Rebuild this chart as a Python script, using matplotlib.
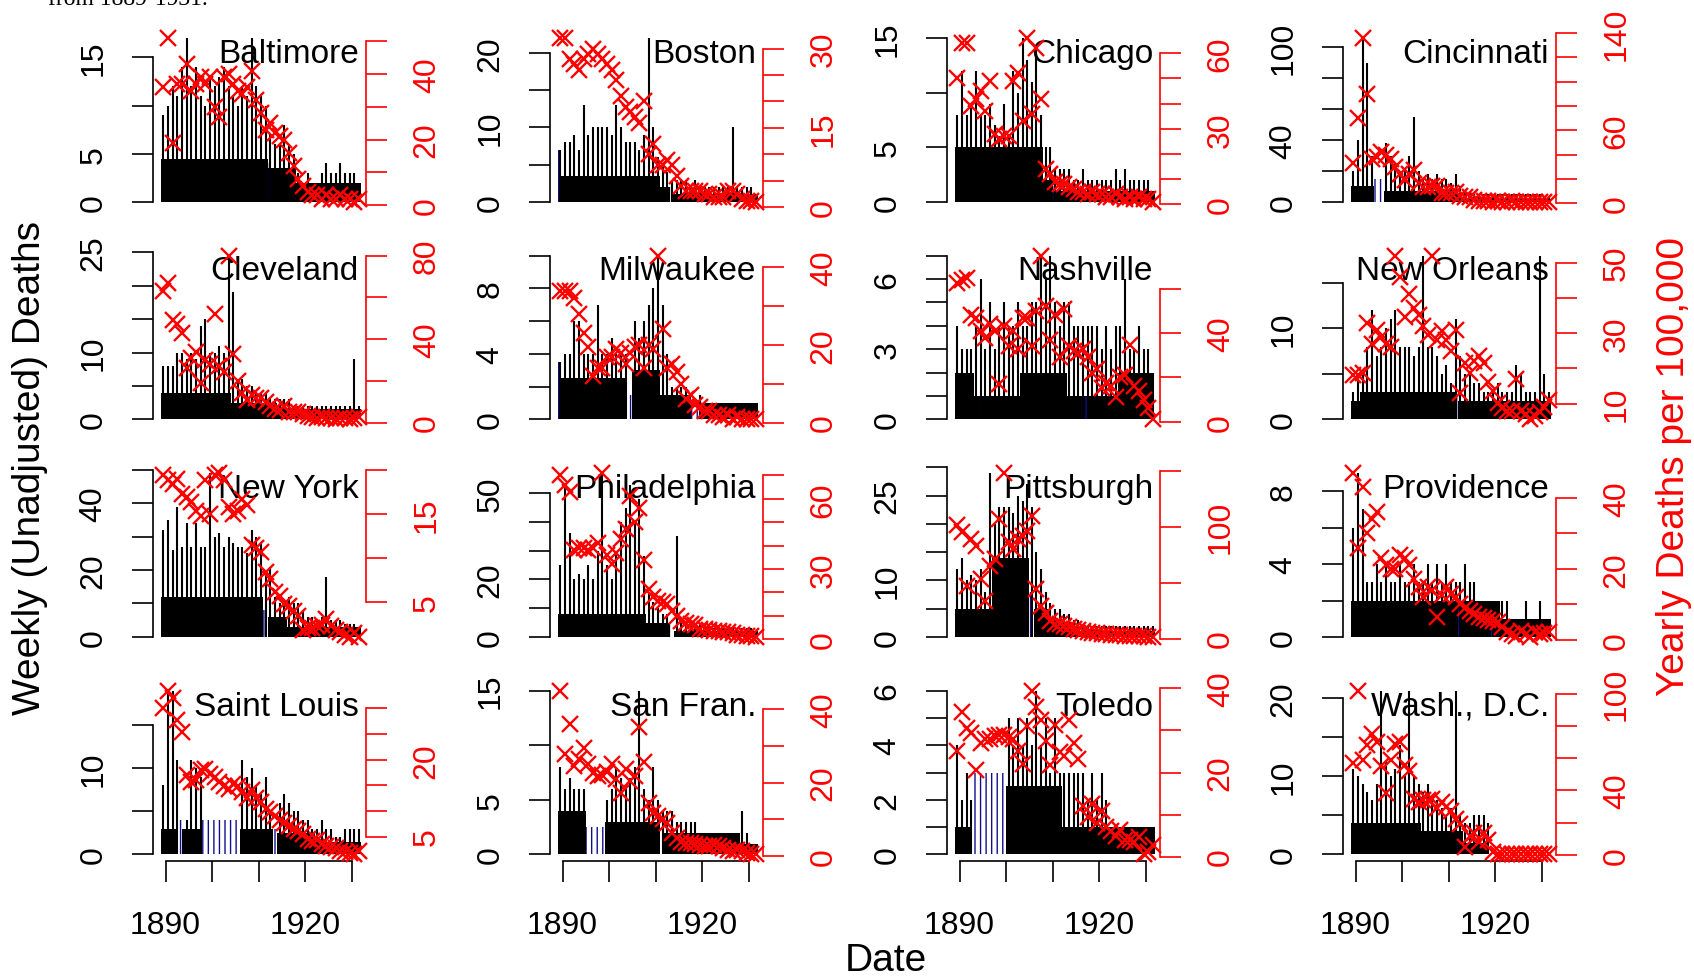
import numpy as np
import matplotlib
matplotlib.use('Agg')
import matplotlib.pyplot as plt

plt.rcParams['font.family'] = ['Liberation Sans', 'DejaVu Sans']
plt.rcParams['hatch.linewidth'] = 1.0

years = np.arange(1889, 1932)

cities = ['Baltimore', 'Boston', 'Chicago', 'Cincinnati',
          'Cleveland', 'Milwaukee', 'Nashville', 'New Orleans',
          'New York', 'Philadelphia', 'Pittsburgh', 'Providence',
          'Saint Louis', 'San Fran.', 'Toledo', 'Wash., D.C.']

# yearly deaths per 100,000 (red crosses), 1889-1931
red_baltimore = [36, 51, 19, 37, 37, 43, 35, 37, 39, 37, 39, 30, 27, 39, 40, 37, 35, 34, 36, 41, 32, 28, 23, 25, 22, 21, 20, 16, 12, 8, 6, 4, 3, 3, 2, 3, 2, 2, 3, 2, 2, 1, 2]
red_boston = [32, 32, 28, 27, 26, 28, 29, 30, 29, 28, 27, 26, 24, 21, 19, 18, 17, 16, 20, 10, 12, 8, 8, 9, 8, 6, 4, 3, 3, 3, 3, 2.5, 2.5, 2, 2, 2, 3, 3, 2.5, 1.5, 1.2, 1.2, 1]
red_chicago = [50, 64, 64, 39, 42, 45, 37, 49, 28, 26, 27, 27, 49, 52, 33, 66, 36, 62, 42, 14, 12, 9, 8, 8, 7, 6, 5, 5, 4, 5, 4, 4, 3, 3, 4, 3, 2, 3, 2, 3, 2, 2, 1]
red_cincinnati = [33, 70, 136, 90, 36, 38, 42, 40, 36, 30, 24, 19, 24, 27, 17, 13, 13, 14, 14, 8, 8, 8, 9, 6, 5, 5, 3, 2, 2, 1.5, 1, 1.5, 1, 1, 1.5, 1, 1, 1, 1, 1, 1, 1, 1]
red_cleveland = [63, 67, 49, 47, 43, 26, 31, 34, 19, 30, 28, 52, 27, 24, 80, 33, 20, 14, 11, 13, 12, 12, 10, 8, 6.5, 6, 8, 5, 5, 5, 4, 3, 2.5, 2, 2.5, 2, 2, 1.5, 2, 2, 1.5, 2, 2.5]
red_milwaukee = [34, 34, 34, 32, 28, 23, 19.5, 12, 14, 14, 17, 17, 19, 18, 15, 18, 19.5, 20, 14, 20, 19, 43, 24, 14, 15, 13, 10, 6, 7, 4.5, 4, 3, 3, 2, 2, 1.5, 2, 1, 1.5, 1, 1, 1, 0.8]
red_nashville = [62.5, 64, 64.7, 48, 47, 41, 38, 44, 41, 17, 43, 34, 41, 33, 47, 47, 34, 50, 75, 52, 37, 48, 29, 51, 34, 32, 31, 33, 29, 22, 24, 15, 17.6, 16, 11, 20, 21, 34.5, 16, 14, 10, 6, 1]
red_neworleans = [18, 18, 18.6, 33, 27, 31, 29, 27, 26, 52, 46, 34.5, 41, 37, 35, 32, 29.6, 52, 28, 30.6, 28, 25, 31, 13, 21.4, 18.6, 22, 23.4, 21.4, 16, 13.5, 10.2, 8.7, 8, 8, 17, 8, 7, 5.5, 6.5, 7.7, 9, 11]
red_newyork = [19.5, 18.9, 18.5, 19, 17.3, 17, 16.4, 15.4, 14.8, 18.9, 15, 19.5, 19.7, 18.9, 15.8, 15, 15.4, 16.7, 16, 11.5, 11.1, 10.7, 8.4, 7.6, 6.1, 5.7, 4.8, 4.5, 4, 3.4, 1.8, 2, 2, 2.2, 2.4, 3, 2.2, 1.8, 1.6, 1.2, 1, 1.4, 1]
red_philadelphia = [70, 66, 63, 38, 39, 39, 38, 39, 41, 71, 36, 32, 37, 43, 47, 61, 50, 56, 34, 21.5, 18, 16.5, 16, 15, 12, 10, 8, 7, 6.5, 6, 4.6, 4.5, 4, 3.5, 3.5, 3, 3, 2.5, 2, 2, 1.5, 1.5, 1]
red_pittsburgh = [102, 95, 47, 89, 83, 53, 34, 65, 71, 107, 148, 86, 80, 89, 92, 96, 110, 44, 29, 23, 16, 13, 13, 11, 10, 9, 8, 7, 6, 5, 5, 4, 4, 3.5, 3, 3, 2.5, 2.5, 2, 2, 2, 1.5, 1.5]
red_providence = [47, 26, 43, 30, 34, 36, 23, 21, 20, 20, 24, 23, 21, 17, 15, 12, 15, 14, 6.4, 12.5, 15, 13, 12, 10, 9, 8, 7.4, 6.5, 6, 5.5, 5.2, 5, 3.5, 2.2, 1.5, 1.2, 2.6, 1.5, 0.8, 2.2, 1.5, 2, 2.2]
red_saintlouis = [30, 33.5, 32, 27.7, 25.4, 17, 15.6, 16, 17.9, 18.2, 17.2, 16.6, 15.6, 14.9, 14.3, 15.3, 14.8, 13.6, 12.6, 14, 12.5, 11.7, 10.4, 9.7, 9, 8.2, 7.7, 7.1, 6.4, 6, 5.5, 4.5, 4.2, 4.4, 3.5, 3.2, 3, 2.8, 2.2, 1.9, 1.7, 1.5, 2.2]
red_sanfran = [45, 27.7, 36, 24.5, 26.4, 29.5, 25, 22.7, 21.8, 22, 23, 25, 20.9, 17.3, 23.6, 20.5, 21.8, 35, 25.5, 14.5, 11.8, 11, 10, 9, 6.4, 5, 4, 3.6, 3.6, 3.4, 3.2, 2.8, 2.7, 3.2, 2.8, 2.3, 1.8, 1.4, 1.8, 1.4, 0.9, 0.6, 0.5]
red_toledo = [25, 34.5, 30.6, 29.5, 20.5, 27, 28, 28, 28.7, 29, 29, 28.5, 28, 25, 22, 31, 39.5, 35.7, 32.6, 27.5, 21.7, 31.4, 24.8, 24, 32.6, 27, 23.3, 12, 9.3, 12.4, 8.1, 10.9, 7, 6, 5, 6.2, 3.9, 4, 3.5, 4.7, 0.5, 1.2, 2.7]
red_wash = [57, 102, 59, 68, 75, 70, 55, 38.5, 59, 69, 70, 56, 52, 35, 33, 34, 34, 35, 29, 33, 30, 27, 22, 19, 5.2, 11.5, 13.5, 8.3, 13.5, 9.4, 2, 0.3, 0.3, 0.3, 0.3, 0.3, 0.3, 0.3, 0.3, 0.3, 0.3, 0.3, 0.3]

# highest weekly count in each year (black spikes), 1889-1931
peak_baltimore = [9, 10, 12, 11, 14, 17, 12, 14, 11, 10, 13, 12, 13, 14, 12, 11, 10, 12, 11, 17, 12, 11, 10, 7, 6, 6, 8, 6, 5, 3, 2, 3, 2, 2, 3, 4, 3, 3, 4, 3, 3, 3, 2]
peak_boston = [7, 8, 8, 9, 7, 13, 9, 10, 10, 10, 10, 9, 13, 10, 8, 8, 8, 7, 9, 22, 10, 6, 5, 4, 3, 3, 3, 3, 2, 3, 2, 2, 2, 2, 2, 2, 2, 10, 2, 2, 2, 2, 1]
peak_chicago = [8, 12, 8, 9, 12, 8, 8, 9, 7, 6, 9, 6, 12, 10, 15, 13, 11, 14, 8, 5, 5, 3, 3, 3, 3, 2, 2, 3, 2, 2, 2, 2, 2, 2, 3, 2, 3, 2, 2, 2, 2, 2, 1]
peak_cincinnati = [20, 40, 106, 90, 30, 0, 0, 38, 30, 25, 20, 20, 30, 55, 20, 15, 18, 15, 18, 15, 15, 12, 18, 10, 8, 6, 5, 5, 5, 5, 5, 5, 5, 5, 5, 5, 5, 5, 5, 5, 5, 4, 4]
peak_cleveland = [8, 8, 8, 10, 10, 9, 10, 9, 14, 15, 10, 10, 11, 10, 24.5, 19, 6, 6, 5, 5, 4, 4, 4, 3, 3, 3, 3, 3, 2, 2, 2, 2, 2, 2, 2, 2, 2, 2, 2, 2, 2, 9, 2]
peak_milwaukee = [3.5, 4, 4, 6, 6, 4, 4, 4, 7, 4, 4, 5, 4, 4, 4, 0, 6, 5, 6, 7, 8, 10, 7, 4, 2, 2, 2, 2, 0, 0, 1.5, 1, 1, 1, 1, 1, 1, 1, 1, 1, 1, 1, 1]
peak_nashville = [4, 3, 3, 3, 4, 6, 3, 5, 3, 4, 5, 4, 4, 5, 4, 4, 5, 5, 7, 6, 7, 5, 4, 5, 5, 4, 4, 4, 4, 4, 4, 3, 4, 3, 4, 4, 6, 3, 3, 4, 3, 3, 2]
peak_neworleans = [3, 5, 5, 8, 12, 7, 8, 10, 11, 12, 8, 8, 8, 7, 8, 18, 8, 8, 7, 5, 6, 4, 11, 7, 5, 5, 4, 4, 3, 3, 3, 4, 3, 3, 3, 6, 5, 3, 3, 3, 18, 5, 3]
peak_newyork = [32, 35, 26, 39, 27, 34, 27, 34, 27, 27, 49, 30, 31, 27, 30, 28, 27, 27, 25, 32, 30, 28, 20, 21, 12, 10, 11, 12, 10, 10, 8, 6, 6, 5, 6, 18, 5, 5, 5, 4, 4, 4, 3]
peak_philadelphia = [25, 52, 36, 20, 22, 20, 25, 20, 30, 57, 25, 20, 30, 40, 45, 53, 40, 48, 28, 15, 12, 10, 8, 8, 0, 35, 6, 5, 5, 4, 4, 4, 4, 3, 3, 3, 3, 3, 3, 3, 3, 3, 2]
peak_pittsburgh = [12, 14, 10, 11, 10, 12, 8, 29, 20, 23, 23, 23, 22, 25, 24, 27, 23, 15, 12, 8, 6, 5, 5, 4, 4, 3, 3, 2, 2, 2, 2, 2, 2, 2, 2, 2, 2, 2, 2, 2, 2, 2, 2]
peak_providence = [6, 9, 7, 3, 3, 4, 3, 4, 3, 3, 4, 3, 3, 4, 3, 3, 4, 3, 4, 3, 4, 3, 3, 3, 4, 3, 3, 2, 2, 2, 2, 2, 2, 2, 1, 1, 1, 2, 1, 1, 2, 1, 1]
peak_saintlouis = [8, 19, 19, 11, 0, 4, 11, 10, 9, 0, 0, 0, 0, 0, 0, 0, 0, 11, 9, 10, 8, 7, 9, 5, 0, 6, 7, 6, 5, 5, 4, 4, 3, 3, 4, 3, 3, 2, 2, 3, 3, 3, 3]
peak_sanfran = [8, 6, 7, 6, 6, 6, 0, 0, 0, 0, 5, 6, 8, 7, 6, 7, 8, 15, 6, 5, 8, 5, 4, 4, 4, 3, 3, 3, 3, 3, 2, 2, 2, 2, 2, 2, 2, 2, 2, 4, 2, 1, 1]
peak_toledo = [4, 2, 3, 2, 0, 0, 0, 0, 0, 0, 0, 5, 4, 5, 4, 5, 4, 6, 4, 5, 3, 5, 3, 3, 3, 3, 3, 3, 2, 3, 2, 3, 2, 1, 1, 1, 1, 1, 1, 1, 1, 1, 1]
peak_wash = [11, 10, 9, 8, 7, 9, 21, 12, 10, 11, 14, 10, 21, 10, 9, 8, 9, 7, 7, 6, 5, 6, 21, 5, 4, 4, 5, 5, 5, 4, 0, 0, 0, 0, 0, 0, 0, 0, 0, 0, 0, 0, 0]

# (from, to, usual weekly count): the dense part of the weekly trace
block_baltimore = [(1889, 1912, 4.5), (1912, 1918, 3.5), (1918, 1932, 2)]
block_boston = [(1889.3, 1911, 3.5), (1911, 1913, 2), (1913.3, 1932, 1)]
block_chicago = [(1889, 1908, 5), (1908, 1910, 2), (1910, 1932, 1)]
block_cincinnati = [(1889, 1894, 10), (1896, 1912, 7), (1912, 1932, 2)]
block_cleveland = [(1889, 1904, 4), (1904, 1914, 2.5), (1914, 1932, 1.5)]
block_milwaukee = [(1889.5, 1903.5, 2.5), (1905, 1911, 3), (1911, 1917.5, 1.5), (1919.5, 1932, 1)]
block_nashville = [(1889, 1893, 2), (1893, 1903, 1), (1903, 1913, 2), (1913, 1924, 1), (1924, 1931.8, 2)]
block_neworleans = [(1889, 1891, 2), (1891, 1911.5, 3), (1912, 1932, 2)]
block_newyork = [(1889, 1911, 12), (1912, 1916, 6), (1916, 1932, 3)]
block_philadelphia = [(1889, 1908, 8), (1908, 1913, 5), (1914, 1932, 2)]
block_pittsburgh = [(1889, 1897, 5), (1897, 1905, 14), (1906, 1909, 5), (1909, 1914, 2.5), (1914, 1932, 1)]
block_providence = [(1889, 1921, 2), (1921, 1932, 1)]
block_saintlouis = [(1889, 1892.5, 3), (1893.5, 1897.5, 3), (1906, 1913, 3), (1914, 1922, 2.5), (1922, 1932, 1.5)]
block_sanfran = [(1889, 1895, 4), (1899, 1911, 3), (1911.5, 1928, 2), (1928, 1932, 1)]
block_toledo = [(1889, 1892.5, 1), (1900, 1912, 2.5), (1912, 1932, 1)]
block_wash = [(1889, 1904, 4), (1904, 1913, 3), (1913, 1918.7, 1.5)]

# (from, to, weekly count) stretches that were filled in (blue)
blue_baltimore = [(1897, 1897.6, 7), (1912, 1912.5, 4)]
blue_boston = [(1889, 1889.3, 7), (1913, 1913.3, 2)]
blue_chicago = [(1910, 1911, 1.5)]
blue_cincinnati = [(1894, 1896, 15)]
blue_cleveland = [(1910, 1911, 2)]
blue_milwaukee = [(1889, 1889.5, 3.5), (1903.5, 1905, 1.5), (1917.5, 1919.5, 1.2)]
blue_nashville = [(1894, 1895, 1), (1916, 1918, 1)]
blue_neworleans = [(1911.5, 1912, 2.5)]
blue_newyork = [(1911, 1912, 8)]
blue_philadelphia = [(1913, 1914, 5)]
blue_pittsburgh = [(1905, 1906, 8)]
blue_providence = [(1897, 1897.5, 2), (1912, 1912.5, 1.5), (1919, 1920, 1)]
blue_saintlouis = [(1892.5, 1893.5, 4), (1897.5, 1906, 4), (1913, 1914, 3)]
blue_sanfran = [(1895, 1899, 2.5), (1911, 1911.5, 2)]
blue_toledo = [(1892.5, 1900, 3)]
blue_wash = [(1902, 1902.5, 3), (1911.5, 1912, 2)]

# left ticks, labelled left ticks, right ticks, labelled right ticks
ticks_baltimore = ([0, 5, 10, 15], [0, 5, 15], [0, 10, 20, 30, 40, 50], [0, 20, 40])
ticks_boston = ([0, 5, 10, 15, 20], [0, 10, 20], [0, 5, 10, 15, 20, 25, 30], [0, 15, 30])
ticks_chicago = ([0, 5, 10, 15], [0, 5, 15], [0, 10, 20, 30, 40, 50, 60], [0, 30, 60])
ticks_cincinnati = ([0, 20, 40, 60, 80, 100], [0, 40, 100], [0, 20, 40, 60, 80, 100, 120, 140], [0, 60, 140])
ticks_cleveland = ([0, 5, 10, 15, 20, 25], [0, 10, 25], [0, 20, 40, 60, 80], [0, 40, 80])
ticks_milwaukee = ([0, 2, 4, 6, 8, 10], [0, 4, 8], [0, 10, 20, 30, 40], [0, 20, 40])
ticks_nashville = ([0, 1, 2, 3, 4, 5, 6, 7], [0, 3, 6], [0, 20, 40, 60], [0, 40])
ticks_neworleans = ([0, 5, 10, 15], [0, 10], [10, 20, 30, 40, 50], [10, 30, 50])
ticks_newyork = ([0, 10, 20, 30, 40, 50], [0, 20, 40], [5, 10, 15, 20], [5, 15])
ticks_philadelphia = ([0, 10, 20, 30, 40, 50], [0, 20, 50], [0, 10, 20, 30, 40, 50, 60, 70], [0, 30, 60])
ticks_pittsburgh = ([0, 5, 10, 15, 20, 25, 30], [0, 10, 25], [0, 50, 100, 150], [0, 100])
ticks_providence = ([0, 2, 4, 6, 8], [0, 4, 8], [0, 10, 20, 30, 40], [0, 20, 40])
ticks_saintlouis = ([0, 5, 10, 15], [0, 10], [5, 10, 15, 20, 25, 30], [5, 20])
ticks_sanfran = ([0, 5, 10, 15], [0, 5, 15], [0, 10, 20, 30, 40], [0, 20, 40])
ticks_toledo = ([0, 1, 2, 3, 4, 5, 6], [0, 2, 4, 6], [0, 10, 20, 30, 40], [0, 20, 40])
ticks_wash = ([0, 5, 10, 15, 20], [0, 10, 20], [0, 20, 40, 60, 80, 100], [0, 40, 100])

x_ticks = [1890, 1900, 1910, 1920, 1930]
x_labels = [1890, 1920]

red_all = [red_baltimore, red_boston, red_chicago, red_cincinnati, red_cleveland, red_milwaukee,
           red_nashville, red_neworleans, red_newyork, red_philadelphia, red_pittsburgh,
           red_providence, red_saintlouis, red_sanfran, red_toledo, red_wash]
peak_all = [peak_baltimore, peak_boston, peak_chicago, peak_cincinnati, peak_cleveland, peak_milwaukee,
            peak_nashville, peak_neworleans, peak_newyork, peak_philadelphia, peak_pittsburgh,
            peak_providence, peak_saintlouis, peak_sanfran, peak_toledo, peak_wash]
block_all = [block_baltimore, block_boston, block_chicago, block_cincinnati, block_cleveland, block_milwaukee,
             block_nashville, block_neworleans, block_newyork, block_philadelphia, block_pittsburgh,
             block_providence, block_saintlouis, block_sanfran, block_toledo, block_wash]
blue_all = [blue_baltimore, blue_boston, blue_chicago, blue_cincinnati, blue_cleveland, blue_milwaukee,
            blue_nashville, blue_neworleans, blue_newyork, blue_philadelphia, blue_pittsburgh,
            blue_providence, blue_saintlouis, blue_sanfran, blue_toledo, blue_wash]
ticks_all = [ticks_baltimore, ticks_boston, ticks_chicago, ticks_cincinnati, ticks_cleveland, ticks_milwaukee,
             ticks_nashville, ticks_neworleans, ticks_newyork, ticks_philadelphia, ticks_pittsburgh,
             ticks_providence, ticks_saintlouis, ticks_sanfran, ticks_toledo, ticks_wash]

W, H = 1694, 979
fig = plt.figure(figsize=(W / 100, H / 100), dpi=100)

col_left = [153, 550, 947, 1343]
row_top = [32.5, 250, 467.5, 685]
pw, ph = 213, 177
navy = '#10108a'

for i, city in enumerate(cities):
    r, c = divmod(i, 4)
    ax = fig.add_axes([col_left[c] / W, 1 - (row_top[r] + ph) / H, pw / W, ph / H])
    red = np.array(red_all[i], dtype=float)
    peak = np.array(peak_all[i], dtype=float)
    lt, ll, rt, rl = ticks_all[i]

    # weekly deaths (black) with filled-in stretches (blue)
    for s, e, v in block_all[i]:
        ax.fill_between([s, e], 0, v, color='black', lw=0)
    for s, e, v in blue_all[i]:
        ax.fill_between([s, e], 0, v, facecolor='none', edgecolor=navy, hatch='|||', lw=0)
    keep = peak > 0
    ax.vlines(years[keep] + 0.5, 0, peak[keep], color='black', lw=1.5)

    top = max(peak.max(), max(b[2] for b in block_all[i]), max(b[2] for b in blue_all[i]))
    ax.set_ylim(-0.04 * top, 1.04 * top)
    ax.set_xlim(1887.3, 1933.0)

    for s in ax.spines.values():
        s.set_visible(False)
    ax.spines['left'].set_visible(True)
    ax.spines['left'].set_bounds(lt[0], lt[-1])
    ax.spines['left'].set_linewidth(1.2)
    ax.set_yticks(lt)
    ax.set_yticklabels([str(t) if t in ll else '' for t in lt], rotation=90, va='center')
    ax.tick_params(axis='y', length=15, width=1.2, pad=17, labelsize=23)

    if r == 3:
        ax.spines['bottom'].set_visible(True)
        ax.spines['bottom'].set_bounds(x_ticks[0], x_ticks[-1])
        ax.spines['bottom'].set_linewidth(1.2)
        ax.set_xticks(x_ticks)
        ax.set_xticklabels([str(t) if t in x_labels else '' for t in x_ticks])
        ax.tick_params(axis='x', length=15, width=1.2, pad=20, labelsize=23)
    else:
        ax.set_xticks([])

    ax.text(1 - 7 / pw, 1 - 22 / ph, city, transform=ax.transAxes,
            ha='right', va='center', fontsize=24)

    # yearly rate on its own scale (red)
    ax2 = ax.twinx()
    ax2.plot(years + 0.5, red, ls='none', marker='x', color='red', ms=12, mew=1.7, clip_on=False)
    lo, hi = red.min(), red.max()
    ax2.set_ylim(lo - 0.04 * (hi - lo), hi + 0.04 * (hi - lo))
    ax2.set_xlim(1887.3, 1933.0)
    for s in ax2.spines.values():
        s.set_visible(False)
    ax2.spines['right'].set_visible(True)
    ax2.spines['right'].set_color('red')
    ax2.spines['right'].set_linewidth(1.2)
    ax2.spines['right'].set_bounds(rt[0], rt[-1])
    ax2.set_yticks(rt)
    ax2.set_yticklabels([str(t) if t in rl else '' for t in rt], rotation=90, va='center')
    ax2.tick_params(axis='y', colors='red', length=15, width=1.2, pad=18, labelsize=23)

fig.text(30 / W, 1 - 468 / H, 'Weekly (Unadjusted) Deaths', rotation=90,
         ha='center', va='center', fontsize=28)
fig.text(1674 / W, 1 - 467 / H, 'Yearly Deaths per 100,000', rotation=90,
         ha='center', va='center', fontsize=28, color='red')
fig.text(886 / W, 1 - 961 / H, 'Date', ha='center', va='center', fontsize=28)
fig.text(48 / W, 1 - 5 / H, 'from 1889-1931.', family=['Liberation Serif', 'DejaVu Serif'],
         fontsize=17, va='baseline', ha='left')

fig.savefig('out.png', dpi=100)
